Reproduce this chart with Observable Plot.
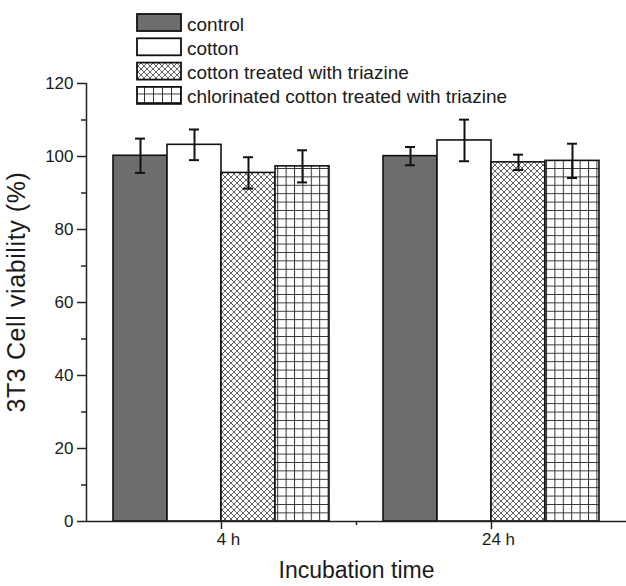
<!DOCTYPE html>
<html><head><meta charset="utf-8">
<script src="https://cdn.jsdelivr.net/npm/d3@7"></script>
<script src="https://cdn.jsdelivr.net/npm/@observablehq/plot@0.6"></script>
<style>
body{margin:0;background:#fff;font-family:"Liberation Sans",Arial,sans-serif;}
#wrap{position:relative;width:626px;height:586px;}
#legend{position:absolute;left:0;top:0;pointer-events:none;}
</style></head><body>
<svg width="0" height="0" style="position:absolute">
  <defs>
    <pattern id="cross" patternUnits="userSpaceOnUse" width="6" height="6">
      <rect width="6" height="6" fill="#fff"/>
      <path d="M0,0L6,6M0,6L6,0" stroke="#3a3a3a" stroke-width="0.8"/>
    </pattern>
    <pattern id="grid" patternUnits="userSpaceOnUse" width="8.4" height="8.4">
      <rect width="8.4" height="8.4" fill="#fff"/>
      <path d="M0,0.5H8.4M0.5,0V8.4" stroke="#333" stroke-width="1"/>
    </pattern>
    <pattern id="gridL" patternUnits="userSpaceOnUse" width="9" height="8.5">
      <rect width="9" height="8.5" fill="#fff"/>
      <path d="M0,0.5H9M0.5,0V8.5" stroke="#333" stroke-width="1"/>
    </pattern>
  </defs>
</svg>
<div id="wrap"></div>
<script>
const times = ["4 h", "24 h"];
const timePos = [1, 3];
const series = ["control", "cotton", "cotton treated with triazine", "chlorinated cotton treated with triazine"];
const fills = ["#6d6d6d", "#ffffff", "url(#cross)", "url(#grid)"];
const legendFills = ["#6d6d6d", "#ffffff", "url(#cross)", "url(#gridL)"];
const means4h = [100.2, 103.2, 95.5, 97.3];
const sd4h = [4.7, 4.2, 4.3, 4.4];
const means24h = [100.1, 104.4, 98.4, 98.8];
const sd24h = [2.5, 5.7, 2.1, 4.7];
const yTicks = [0, 20, 40, 60, 80, 100, 120];
const yMinorTicks = [10, 30, 50, 70, 90, 110];
const yTitle = "3T3 Cell viability (%)";
const xTitle = "Incubation time";

const means = [means4h, means24h];
const sds = [sd4h, sd24h];
const barW = 0.4, capHalf = 0.037;
const rows = [];
times.forEach((t, ti) => {
  series.forEach((s, si) => {
    const x1 = timePos[ti] - 2 * barW + si * barW;
    rows.push({time: t, series: s, fill: fills[si], x1, x2: x1 + barW, xc: x1 + barW / 2,
      mean: means[ti][si], lo: means[ti][si] - sds[ti][si], hi: means[ti][si] + sds[ti][si]});
  });
});
const xLabels = times.map((t, i) => ({pos: timePos[i], label: t}));

const chart = Plot.plot({
  width: 626, height: 586,
  marginLeft: 86, marginRight: 0, marginTop: 83, marginBottom: 65,
  style: {fontFamily: "Liberation Sans, Arial, sans-serif", fontSize: "16px", color: "#222", background: "#fff"},
  x: {domain: [0, 4]},
  y: {domain: [0, 120]},
  marks: [
    Plot.rectY(rows, {x1: "x1", x2: "x2", y1: 0, y2: "mean", fill: "fill", stroke: "#111", strokeWidth: 1.6}),
    Plot.ruleX(rows, {x: "xc", y1: "lo", y2: "hi", stroke: "#111", strokeWidth: 2}),
    Plot.ruleY(rows, {y: "hi", x1: d => d.xc - capHalf, x2: d => d.xc + capHalf, stroke: "#111", strokeWidth: 2}),
    Plot.ruleY(rows, {y: "lo", x1: d => d.xc - capHalf, x2: d => d.xc + capHalf, stroke: "#111", strokeWidth: 2}),
    Plot.axisY({ticks: yTicks, tickSize: 9, tickFormat: () => "", label: null, strokeWidth: 1.5, stroke: "#222"}),
    Plot.axisY({ticks: yMinorTicks, tickSize: 5, tickFormat: () => "", label: null, strokeWidth: 1.5, stroke: "#222"}),
    Plot.axisX({ticks: timePos, tickSize: 8, tickFormat: () => "", label: null, strokeWidth: 1.5, stroke: "#222"}),
    Plot.axisX({ticks: [2], tickSize: 4, tickFormat: () => "", label: null, strokeWidth: 1.5, stroke: "#222"}),
    Plot.text(yTicks, {x: 0, y: d => d, text: d => String(d), textAnchor: "end", dx: -13, fontSize: 17, fill: "#1a1a1a"}),
    Plot.text(xLabels, {x: "pos", text: "label", frameAnchor: "bottom", dy: 23, dx: 7, fontSize: 17, fill: "#1a1a1a"}),
    Plot.ruleY([0], {stroke: "#222", strokeWidth: 1.5}),
    Plot.ruleX([0], {stroke: "#222", strokeWidth: 1.5}),
    Plot.text([xTitle], {frameAnchor: "bottom", dy: 56, fontSize: 23, fill: "#1a1a1a"})
  ]
});
document.getElementById("wrap").appendChild(chart);

const leg = d3.select("#wrap").append("svg").attr("id", "legend").attr("width", 626).attr("height", 586);
series.forEach((s, i) => {
  const y0 = 14 + 24.3 * i;
  leg.append("rect").attr("x", 137).attr("y", y0).attr("width", 44).attr("height", 17)
    .attr("fill", legendFills[i]).attr("stroke", "#111").attr("stroke-width", 1.8);
  leg.append("text").attr("x", 187).attr("y", y0 + 16.5).attr("font-size", 19)
    .attr("font-family", "Liberation Sans, Arial, sans-serif").attr("fill", "#1a1a1a").text(s);
});
leg.append("text").attr("transform", "translate(25,292) rotate(-90)")
  .attr("text-anchor", "middle").attr("font-size", 25).attr("letter-spacing", 0.6)
  .attr("font-family", "Liberation Sans, Arial, sans-serif").attr("fill", "#1a1a1a").text(yTitle);
</script>
</body></html>
